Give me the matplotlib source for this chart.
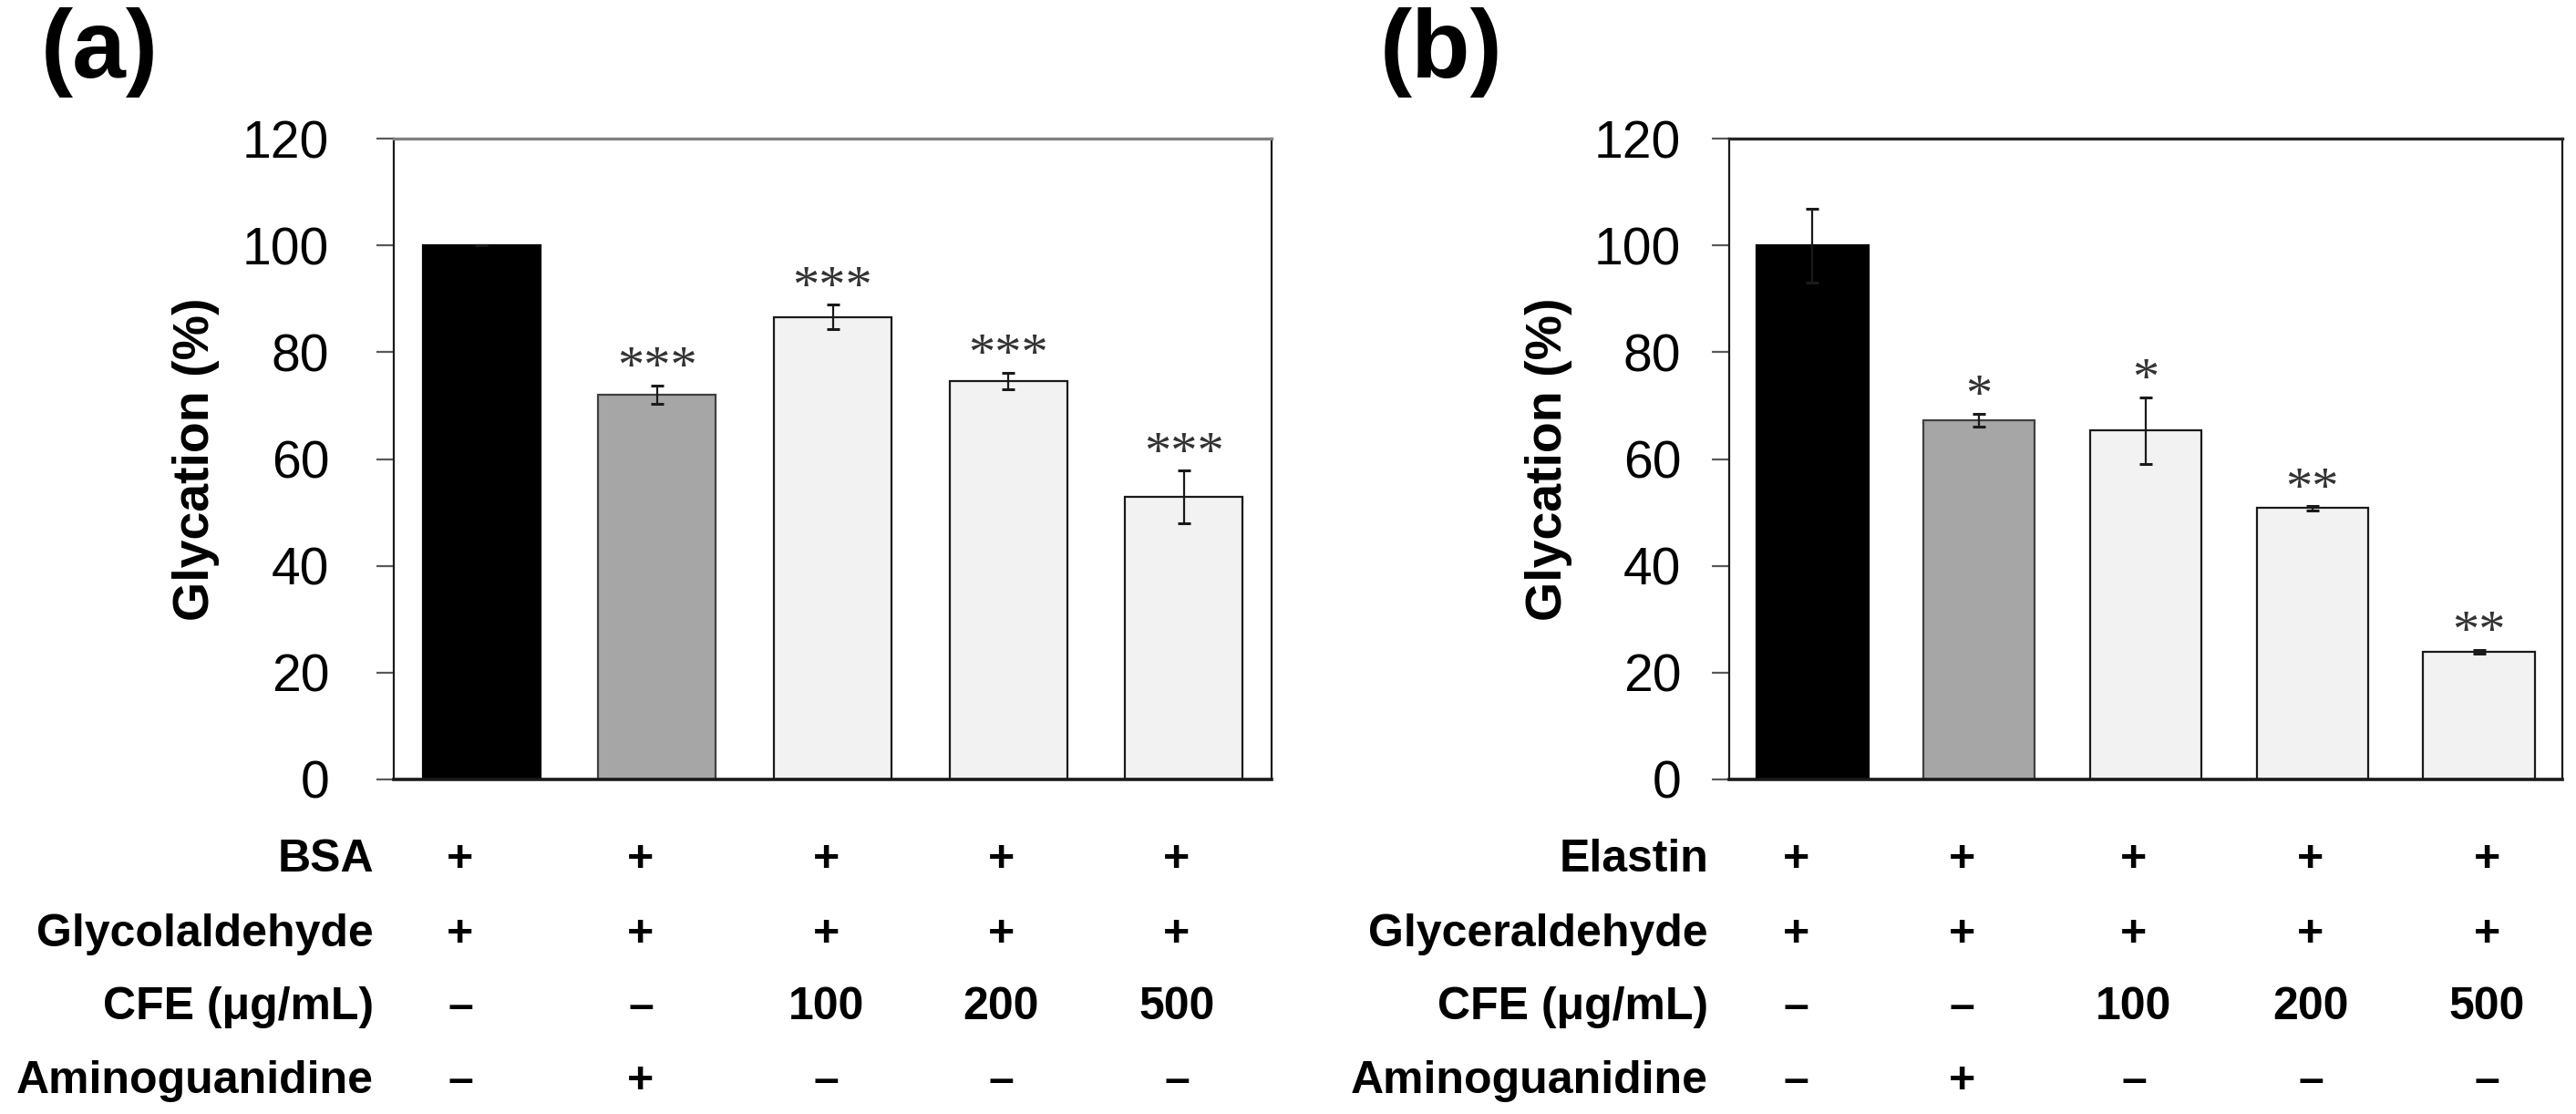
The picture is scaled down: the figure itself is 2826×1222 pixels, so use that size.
import matplotlib
matplotlib.use("Agg")
import matplotlib.pyplot as plt
import numpy as np

# ---------------- data ----------------
groups = ["Control", "Aminoguanidine", "CFE 100", "CFE 200", "CFE 500"]
a_values = [100.0, 72.1, 86.6, 74.6, 52.9]
a_errors = [0.0, 1.7, 2.3, 1.6, 4.9]
a_stars = ["", "***", "***", "***", "***"]
b_values = [100.0, 67.3, 65.3, 50.8, 23.9]
b_errors = [6.9, 1.2, 6.3, 0.4, 0.4]
b_stars = ["", "*", "*", "**", "**"]
bar_colors = ["#000000", "#a6a6a6", "#f2f2f2", "#f2f2f2", "#f2f2f2"]
edge_colors = ["#000000", "#404040", "#1a1a1a", "#1a1a1a", "#1a1a1a"]

a_row_labels = ["BSA", "Glycolaldehyde", "CFE (μg/mL)", "Aminoguanidine"]
b_row_labels = ["Elastin", "Glyceraldehyde", "CFE (μg/mL)", "Aminoguanidine"]
row_entries = [
    ["+", "+", "+", "+", "+"],
    ["+", "+", "+", "+", "+"],
    ["–", "–", "100", "200", "500"],
    ["–", "+", "–", "–", "–"],
]
yticks = [0, 20, 40, 60, 80, 100, 120]
ylabel = "Glycation (%)"

# ---------------- layout ----------------
W, H = 2826, 1222
DPI = 100
fig = plt.figure(figsize=(W / DPI, H / DPI), dpi=DPI)
plt.rcParams['font.family'] = ['Liberation Sans', 'DejaVu Sans']

def fx(px):
    return px / W

def fy(py):
    return 1 - py / H

ax_top, ax_bot = 152, 855
panels = [
    dict(left=432, right=1395, values=a_values, errors=a_errors, stars=a_stars,
         rows=a_row_labels, row_right=410, cols=[505, 703, 906, 1098, 1291],
         pad=37, label_x=215, letter="(a)", letter_x=45, top_color="#808080"),
    dict(left=1897, right=2811, values=b_values, errors=b_errors, stars=b_stars,
         rows=b_row_labels, row_right=1874, cols=[1970, 2152, 2341, 2535, 2728],
         pad=24, label_x=1699, letter="(b)", letter_x=1514, top_color="#262626"),
]
row_baselines = [956, 1038, 1118, 1199]

for p in panels:
    ax = fig.add_axes([fx(p["left"]), fy(ax_bot), fx(p["right"] - p["left"]),
                       (ax_bot - ax_top) / H])
    x = np.arange(len(groups))
    ax.bar(x, p["values"], width=0.67, color=bar_colors, edgecolor=edge_colors,
           linewidth=1.6, zorder=2)
    ax.errorbar(x, p["values"], yerr=p["errors"], fmt="none", ecolor="#1a1a1a",
                elinewidth=1.6, capsize=5, capthick=2.2, zorder=3)
    for xi, v, e, s in zip(x, p["values"], p["errors"], p["stars"]):
        if s:
            ax.text(xi, v + e + 0.6, s, ha="center", va="baseline",
                    fontsize=42, color="#333333", family="Liberation Serif")
    ax.set_xlim(-0.5, len(groups) - 0.5)
    ax.set_ylim(0, 120)
    ax.set_yticks(yticks)
    ax.set_xticks([])
    ax.tick_params(axis="y", length=14, width=1.6, color="#595959",
                   labelsize=41, pad=p["pad"], direction="out")
    for sp in ["left", "right"]:
        ax.spines[sp].set_linewidth(1.6)
        ax.spines[sp].set_color("#1a1a1a")
    ax.spines["bottom"].set_linewidth(2.6)
    ax.spines["bottom"].set_color("#1a1a1a")
    ax.spines["top"].set_linewidth(2.4)
    ax.spines["top"].set_color(p["top_color"])

    fig.text(fx(p["label_x"]), fy((ax_top + ax_bot) / 2), ylabel, rotation=90,
             ha="center", va="center", fontsize=40, fontweight="bold")
    fig.text(fx(p["letter_x"]), fy(8), p["letter"], ha="left", va="top",
             fontsize=76, fontweight="bold")

    for r, (lab, ent) in enumerate(zip(p["rows"], row_entries)):
        yb = fy(row_baselines[r])
        fig.text(fx(p["row_right"]), yb, lab, ha="right", va="baseline",
                 fontsize=36, fontweight="bold")
        for cx, t in zip(p["cols"], ent):
            fig.text(fx(cx), yb, t, ha="center", va="baseline",
                     fontsize=36, fontweight="bold")

fig.savefig("out.png", dpi=DPI, facecolor="white")
